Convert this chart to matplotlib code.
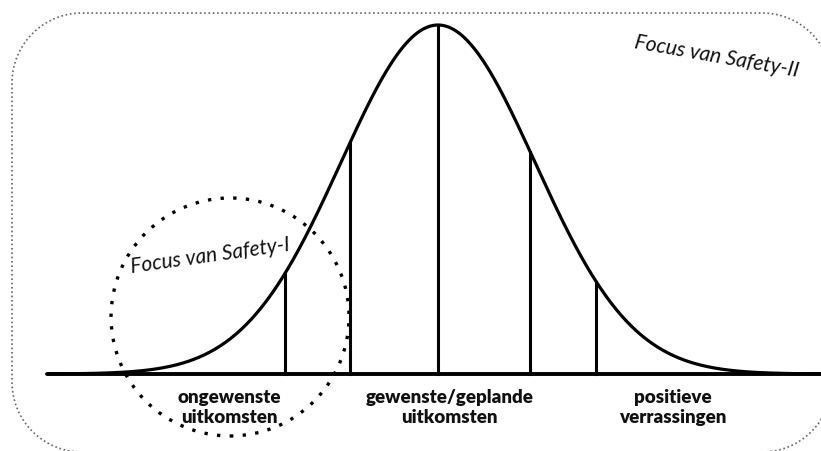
import numpy as np
import matplotlib.pyplot as plt
from matplotlib.patches import Circle

# Normal curve in sigma units (peak normalised to 1)
mean = 0.0
sigma = 1.0
x_range = (-4.03, 4.0)

# Vertical dividers (sigma units)
dividers = [-1.58, -0.91, 0.0, 0.95, 1.63]

# Region labels and their centres (sigma units)
region_labels = ['ongewenste\nuitkomsten', 'gewenste/geplande\nuitkomsten', 'positieve\nverrassingen']
region_centres = [-2.15, 0.12, 2.42]

focus_labels = ['Focus van Safety-I', 'Focus van Safety-II']


def rounded_rect(x0, y0, x1, y1, r, n=40):
    # outline of a rounded rectangle as a plain polyline
    corners = [(x1 - r, y0 + r, -90, 0), (x1 - r, y1 - r, 0, 90),
               (x0 + r, y1 - r, 90, 180), (x0 + r, y0 + r, 180, 270)]
    px, py = [], []
    for cx, cy, a0, a1 in corners:
        t = np.radians(np.linspace(a0, a1, n))
        px.extend(cx + r * np.cos(t))
        py.extend(cy + r * np.sin(t))
    px.append(px[0])
    py.append(py[0])
    return px, py


W, H = 821, 452
fig = plt.figure(figsize=(W / 100, H / 100), dpi=100)
plt.rcParams['font.family'] = ['Lato', 'DejaVu Sans']

ax = fig.add_axes([0, 0, 1, 1])
ax.set_xlim(-4.515, 3.948)
ax.set_ylim(-0.2206, 1.0745)
ax.axis('off')

xs = np.linspace(x_range[0], x_range[1], 600)
ys = np.exp(-0.5 * ((xs - mean) / sigma) ** 2)
ax.plot(xs, ys, color='black', lw=2.3, solid_capstyle='butt')
ax.plot([x_range[0], 4.2], [0, 0], color='black', lw=2.8, solid_capstyle='round')

for d in dividers:
    top = np.exp(-0.5 * ((d - mean) / sigma) ** 2)
    ax.plot([d, d], [0, top], color='black', lw=2.2)

for lab, cx in zip(region_labels, region_centres):
    ax.text(cx, -0.092, lab, ha='center', va='center', fontsize=13.5,
            fontweight='heavy', linespacing=1.2, color='#111111')

# overlay in pixel units for the decorations
deco = fig.add_axes([0, 0, 1, 1], facecolor='none')
deco.set_xlim(0, W)
deco.set_ylim(0, H)
deco.axis('off')

# dotted rounded frame, partly running off the right/bottom edges
fx, fy = rounded_rect(12, -1, 832, 438, 70)
deco.plot(fx, fy, color='#666666', lw=1.2, linestyle=(0, (1, 1.6)))

circ = Circle((230, H - 318), 119, fill=False, edgecolor='black', lw=2.4,
              linestyle=(0, (1, 2.8)))
deco.add_patch(circ)

deco.text(210, H - 256, focus_labels[0], ha='center', va='center',
          fontsize=15, style='italic', rotation=8, color='#111111')
deco.text(717, H - 57, focus_labels[1], ha='center', va='center',
          fontsize=15, style='italic', rotation=-10, color='#111111')

fig.savefig('out.png', dpi=100)
